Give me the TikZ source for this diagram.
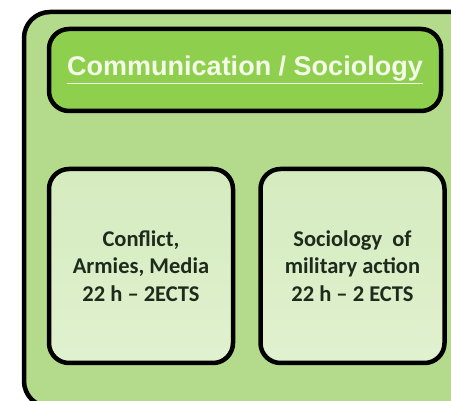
\documentclass[tikz,border=0pt]{standalone}
\usepackage{fontspec}
\setmainfont{Carlito}
\newfontfamily\headfont{Liberation Sans}
\definecolor{outerfill}{HTML}{B3DB8B}
\definecolor{headfill}{HTML}{8FCF4E}
\definecolor{boxtop}{HTML}{D5EBBF}
\definecolor{boxbot}{HTML}{E0F1CF}
\definecolor{txtdark}{HTML}{1E2B1C}
\definecolor{headtxt}{HTML}{F4FBE8}
\tikzset{
  outerbox/.style={draw=black, line width=4.5pt, rounded corners=26pt, fill=outerfill},
  headbox/.style={draw=black, line width=4.5pt, rounded corners=20pt, fill=headfill,
    minimum width=392pt, minimum height=82pt, inner sep=0pt,
    font=\headfont\bfseries\fontsize{27}{32}\selectfont, text=headtxt},
  coursebox/.style={draw=black, line width=4.5pt, rounded corners=20pt,
    top color=boxtop, bottom color=boxbot,
    minimum width=184pt, minimum height=194pt, inner sep=0pt, align=center,
    font=\bfseries\fontsize{22.5}{27.5}\selectfont, text=txtdark}
}
\begin{document}
\begin{tikzpicture}[x=1pt,y=-1pt]
\useasboundingbox (0,0) rectangle (451,401);
\clip (0,0) rectangle (451,401);
\fill[white] (0,0) rectangle (451,401);
\draw[outerbox] (24,12) rectangle (490,407);
\node[headbox] (head) at (245,70) {\underline{Communication / Sociology}};
\node[coursebox] (c1) at (141,266) {Conflict,\\Armies, Media\\22 h -- 2ECTS};
\node[coursebox] (c2) at (352.5,266) {Sociology\ \ of\\military action\\22 h -- 2 ECTS};
\end{tikzpicture}
\end{document}
